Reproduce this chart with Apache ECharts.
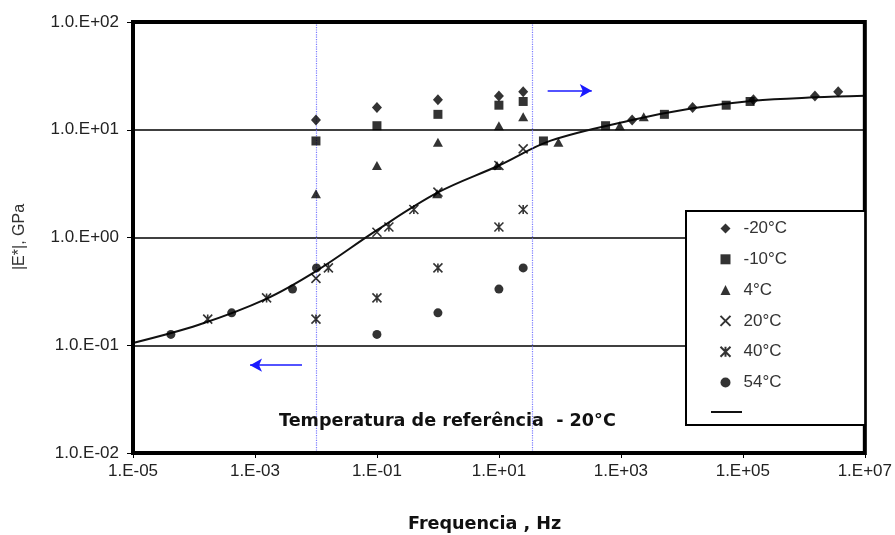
<!DOCTYPE html>
<html>
<head>
<meta charset="utf-8">
<script src="https://cdn.jsdelivr.net/npm/echarts@6/dist/echarts.min.js"></script>
<style>html,body{margin:0;padding:0;background:#fff}#c{width:895px;height:535px}</style>
</head>
<body>
<div id="c"></div>
<script>
// Measured frequencies (Hz)
const freqRaw = [0.01, 0.1, 1, 10, 25];
const freqRaw54 = [0.1, 1, 10, 25];
// |E*| (GPa) at measured frequencies
const eM20 = [12.3, 16.1, 19.0, 20.6, 22.5];
const eM10 = [7.87, 10.9, 13.9, 16.9, 18.3];
const eP4 = [2.55, 4.66, 7.64, 10.9, 13.2];
const eP20 = [0.417, 1.12, 2.64, 4.66, 6.64];
const eP40 = [0.175, 0.275, 0.522, 1.25, 1.82];
const eP54 = [0.126, 0.200, 0.332, 0.522];
// reduced (shifted) frequencies on master curve
const fShiftM20 = [1530, 15000, 149000, 1.52e6, 3.66e6];
const fShiftM10 = [53.7, 561, 5170, 53300, 131500];
const fShiftP4 = [0.97, 9.3, 94.6, 961, 2370];
const fShiftP40 = [1.68e-4, 1.55e-3, 0.016, 0.157, 0.403];
const fShiftP54 = [4.18e-5, 4.15e-4, 4.13e-3, 0.0102];
// master curve
const curveFreq = [1e-5, 1.2e-4, 1.5e-3, 0.0102, 0.1, 1, 10, 70.8, 1530, 15000, 149000, 1.52e6, 1e7];
const curveE = [0.105, 0.155, 0.268, 0.49, 1.17, 2.62, 4.66, 7.92, 12.3, 15.8, 18.6, 20.0, 20.7];
// series names
const markerNames = ['-20°C', '-10°C', '4°C', '20°C', '40°C', '54°C'];
const curveName = ' ';
// annotation positions (data units)
const blueLines = [0.0071, 35];
const arrowRight = [[63, 23], [333, 23]];
const arrowLeft = [[0.0059, 0.0653], [8.3e-4, 0.0653]];

function pairs(f, e) { return f.map((x, i) => [x, e[i]]); }
function both(fr, er, fs) { return pairs(fr, er).concat(pairs(fs, er)); }

function yFmt(v) {
  const e = Math.round(Math.log10(v));
  return '1.0.E' + (e < 0 ? '-' : '+') + String(Math.abs(e)).padStart(2, '0');
}
function xFmt(v) {
  const e = Math.round(Math.log10(v));
  return '1.E' + (e < 0 ? '-' : '+') + String(Math.abs(e)).padStart(2, '0');
}

const X_PATH = 'path://M0,0L10,10M10,0L0,10';
const STAR_PATH = 'path://M0,0L10,10M10,0L0,10M5,0L5,10';

const chart = echarts.init(document.getElementById('c'), null, { renderer: 'canvas' });
const lblFont = { color: '#222', fontFamily: 'Liberation Sans', fontSize: 17 };

function sc(name, data, symbol, size, stroke) {
  return {
    name: name, type: 'scatter', data: data, symbol: symbol, symbolSize: size, z: 5,
    itemStyle: stroke ? { color: 'none', borderColor: '#000', borderWidth: 1.6 } : { color: '#000' }
  };
}

chart.setOption({
  animation: false,
  backgroundColor: '#fff',
  grid: { left: 133, right: 30, top: 22, bottom: 82, show: true, borderColor: '#000', borderWidth: 4, backgroundColor: 'transparent', z: 10 },
  xAxis: {
    type: 'log', logBase: 10, min: 1e-5, max: 1e7, interval: 2,
    axisLine: { show: false },
    axisTick: { show: true, length: 5, lineStyle: { color: '#000' } },
    axisLabel: Object.assign({ formatter: xFmt, margin: 10 }, lblFont),
    splitLine: { show: false }
  },
  yAxis: {
    type: 'log', logBase: 10, min: 0.01, max: 100, interval: 1,
    axisLine: { show: false },
    axisTick: { show: true, length: 6, lineStyle: { color: '#000' } },
    axisLabel: Object.assign({ formatter: yFmt, margin: 14 }, lblFont),
    splitLine: { show: true, lineStyle: { color: '#000', width: 1.5 } }
  },
  legend: [
    {
      data: markerNames, orient: 'vertical', left: 686, top: 211, z: 20,
      itemWidth: 10, itemHeight: 10, itemGap: 13.8,
      padding: [9, 78, 34, 32],
      backgroundColor: '#fff', borderColor: '#000', borderWidth: 2,
      selectedMode: false,
      textStyle: { color: '#333', fontFamily: 'Liberation Sans', fontSize: 17, padding: [0, 0, 0, 8] }
    },
    {
      data: [{ name: curveName, icon: 'rect' }], orient: 'vertical', left: 711, top: 411, z: 21,
      itemWidth: 31, itemHeight: 2, padding: 0,
      selectedMode: false,
      textStyle: { fontSize: 1 }
    }
  ],
  graphic: [
    { type: 'text', left: 279, top: 412, z: 20, style: { text: 'Temperatura de referência  - 20°C', font: 'bold 17.6px "DejaVu Sans"', fill: '#111' } },
    { type: 'text', left: 408, top: 515, z: 20, style: { text: 'Frequencia , Hz', font: 'bold 17.6px "DejaVu Sans"', fill: '#111' } },
    { type: 'text', x: 20, y: 237, rotation: Math.PI / 2, z: 20, style: { text: '|E*|, GPa', font: '16px "Liberation Sans"', fill: '#333', align: 'center', verticalAlign: 'middle' } }
  ],
  series: [
    {
      name: curveName, type: 'line', data: pairs(curveFreq, curveE), smooth: 0.35, symbol: 'none', z: 3,
      itemStyle: { color: '#111' },
      lineStyle: { color: '#111', width: 2 },
      markLine: {
        silent: true, symbol: 'none', label: { show: false },
        data: [
          { xAxis: blueLines[0], lineStyle: { color: '#7b7bff', type: 'dotted', width: 1.2 } },
          { xAxis: blueLines[1], lineStyle: { color: '#7b7bff', type: 'dotted', width: 1.2 } },
          [{ coord: arrowRight[0], symbol: 'none', lineStyle: { color: '#1a1aff', type: 'solid', width: 1.6 } }, { coord: arrowRight[1], symbol: 'arrow', symbolSize: [10, 12] }],
          [{ coord: arrowLeft[0], symbol: 'none', lineStyle: { color: '#1a1aff', type: 'solid', width: 1.6 } }, { coord: arrowLeft[1], symbol: 'arrow', symbolSize: [10, 12] }]
        ]
      }
    },
    sc(markerNames[0], both(freqRaw, eM20, fShiftM20), 'diamond', [10, 11], false),
    sc(markerNames[1], both(freqRaw, eM10, fShiftM10), 'rect', 9, false),
    sc(markerNames[2], both(freqRaw, eP4, fShiftP4), 'triangle', [10, 9], false),
    sc(markerNames[3], pairs(freqRaw, eP20), X_PATH, 9, true),
    sc(markerNames[4], both(freqRaw, eP40, fShiftP40), STAR_PATH, 9, true),
    sc(markerNames[5], both(freqRaw54, eP54, fShiftP54), 'circle', 9, false)
  ]
});
</script>
</body>
</html>
